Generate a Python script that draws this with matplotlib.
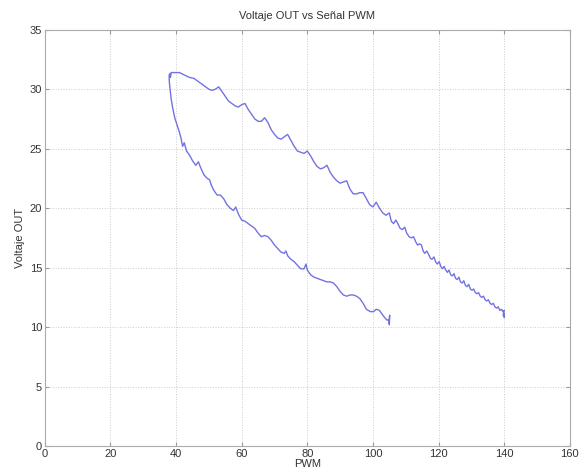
import matplotlib.pyplot as plt

# -----------------------------
# Data (PWM vs output voltage)
# -----------------------------
# lower branch: PWM going down from 105 to ~38
lower_pwm = [105.0, 105.1, 104.9, 105.0, 104.2, 103.0, 102.0, 101.0, 100.2, 99.2,
             98.0, 97.0, 96.0, 95.0, 94.0, 93.0, 92.0, 91.0, 90.0, 89.0,
             88.0, 87.0, 86.0, 85.0, 84.0, 83.0, 82.0, 81.0, 80.0, 79.6,
             79.0, 78.0, 77.0, 76.0, 75.0, 74.0, 73.5, 73.0, 72.0, 71.0,
             70.0, 69.0, 68.0, 67.0, 66.0, 65.0, 64.0, 63.0, 62.0, 61.0,
             60.0, 59.0, 58.2, 57.5, 56.5, 55.5, 54.5, 53.5, 52.5, 51.5,
             50.8, 50.2, 49.5, 48.5, 47.5, 46.8, 46.0, 45.0, 44.0, 43.2,
             42.5, 42.0, 41.5, 41.0, 40.3, 39.6, 39.0, 38.5, 38.1, 37.9,
             37.9, 38.1, 38.3, 38.5]
lower_volt = [10.2, 11.0, 10.3, 10.6, 10.6, 11.0, 11.4, 11.5, 11.3, 11.3,
              11.5, 12.0, 12.4, 12.6, 12.7, 12.7, 12.6, 12.7, 13.0, 13.4,
              13.7, 13.8, 13.8, 13.9, 14.0, 14.1, 14.2, 14.4, 14.8, 15.3,
              14.9, 14.9, 15.2, 15.5, 15.7, 16.0, 16.4, 16.2, 16.3, 16.6,
              16.9, 17.3, 17.6, 17.7, 17.6, 17.9, 18.3, 18.5, 18.7, 18.9,
              19.0, 19.5, 20.1, 19.8, 20.0, 20.3, 20.8, 21.1, 21.1, 21.5,
              21.9, 22.4, 22.5, 22.8, 23.4, 23.9, 23.6, 24.0, 24.5, 24.8,
              25.5, 25.2, 25.9, 26.4, 27.0, 27.6, 28.4, 29.2, 30.2, 30.8,
              31.2, 31.3, 31.0, 31.4]

# upper branch: PWM going up from ~38 to 140
upper_pwm = [39.5, 41.0, 42.5, 44.0, 45.5, 47.0, 48.5, 50.0, 51.0, 52.0,
             53.0, 54.0, 55.0, 56.0, 57.0, 58.0, 59.0, 60.0, 61.0, 62.0,
             63.0, 64.0, 65.0, 66.0, 67.0, 68.0, 69.0, 70.0, 71.0, 72.0,
             73.0, 74.0, 75.0, 76.0, 77.0, 78.0, 79.0, 80.0, 81.0, 82.0,
             83.0, 84.0, 85.0, 86.0, 87.0, 88.0, 89.0, 90.0, 91.0, 92.0,
             93.0, 94.0, 95.0, 96.0, 97.0, 98.0, 99.0, 100.0, 101.0, 102.0,
             103.0, 104.0, 105.0, 105.6, 106.3, 107.0, 107.6, 108.3, 109.0, 109.7,
             110.3, 111.0, 111.7, 112.4, 113.0, 113.6, 114.2, 114.8, 115.3, 115.8,
             116.4, 117.0, 117.5, 118.0, 118.6, 119.1, 119.6, 120.2, 120.7, 121.2,
             121.7, 122.2, 122.7, 123.2, 123.7, 124.2, 124.7, 125.2, 125.7, 126.2,
             126.7, 127.2, 127.7, 128.2, 128.7, 129.2, 129.7, 130.2, 130.7, 131.2,
             131.7, 132.2, 132.7, 133.2, 133.7, 134.2, 134.7, 135.2, 135.7, 136.2,
             136.7, 137.2, 137.7, 138.2, 138.7, 139.2, 139.6, 140.0, 139.7, 140.1,
             139.8, 140.0]
upper_volt = [31.4, 31.4, 31.2, 31.0, 30.9, 30.6, 30.3, 30.0, 29.9, 30.0,
              30.2, 29.8, 29.4, 29.0, 28.8, 28.6, 28.5, 28.7, 28.8, 28.3,
              27.9, 27.5, 27.3, 27.3, 27.6, 27.2, 26.6, 26.2, 25.9, 25.8,
              26.0, 26.2, 25.7, 25.2, 24.8, 24.7, 24.6, 24.8, 24.4, 23.9,
              23.5, 23.3, 23.4, 23.6, 23.0, 22.6, 22.3, 22.1, 22.2, 22.3,
              21.6, 21.2, 21.2, 21.3, 21.3, 20.8, 20.3, 20.1, 20.5, 20.0,
              19.6, 19.4, 19.6, 18.9, 18.7, 19.0, 18.7, 18.3, 18.2, 18.4,
              17.9, 17.6, 17.5, 17.6, 17.2, 16.9, 17.0, 16.9, 16.4, 16.2,
              16.4, 16.1, 15.8, 15.7, 15.9, 15.5, 15.3, 15.5, 15.1, 14.9,
              15.1, 14.8, 14.6, 14.8, 14.4, 14.3, 14.5, 14.1, 14.0, 14.2,
              13.8, 13.7, 13.9, 13.5, 13.4, 13.6, 13.2, 13.1, 13.2, 12.9,
              12.8, 12.9, 12.6, 12.5, 12.6, 12.3, 12.2, 12.3, 12.0, 11.9,
              12.0, 11.7, 11.6, 11.7, 11.4, 11.5, 11.3, 11.4, 11.0, 10.8,
              11.2, 11.0]

x_ticks = [0, 20, 40, 60, 80, 100, 120, 140, 160]
y_ticks = [0, 5, 10, 15, 20, 25, 30, 35]

# -----------------------------
# Plot
# -----------------------------
plt.rcParams['font.family'] = ['Liberation Sans', 'DejaVu Sans']

fig = plt.figure(figsize=(5.82, 4.72), dpi=100)
ax = fig.add_axes([0.077, 0.055, 0.902, 0.882])

pwm = lower_pwm + upper_pwm
volt = lower_volt + upper_volt
ax.plot(pwm, volt, color="#7272e2", linewidth=1.0)

ax.set_xlim(0, 160)
ax.set_ylim(0, 35)
ax.set_xticks(x_ticks)
ax.set_yticks(y_ticks)
ax.tick_params(direction="in", length=3, labelsize=8, colors="#999999",
               labelcolor="#333333", top=True, right=True, pad=2)
ax.grid(True, linestyle=":", color="#cccccc", linewidth=0.7)
for spine in ax.spines.values():
    spine.set_color("#aaaaaa")

ax.set_title("Voltaje OUT vs Señal PWM", fontsize=8, color="#333333", pad=8)
ax.set_xlabel("PWM", fontsize=8, color="#333333", labelpad=0)
ax.set_ylabel("Voltaje OUT", fontsize=8, color="#333333", labelpad=3)

plt.savefig("out.png", dpi=100)
